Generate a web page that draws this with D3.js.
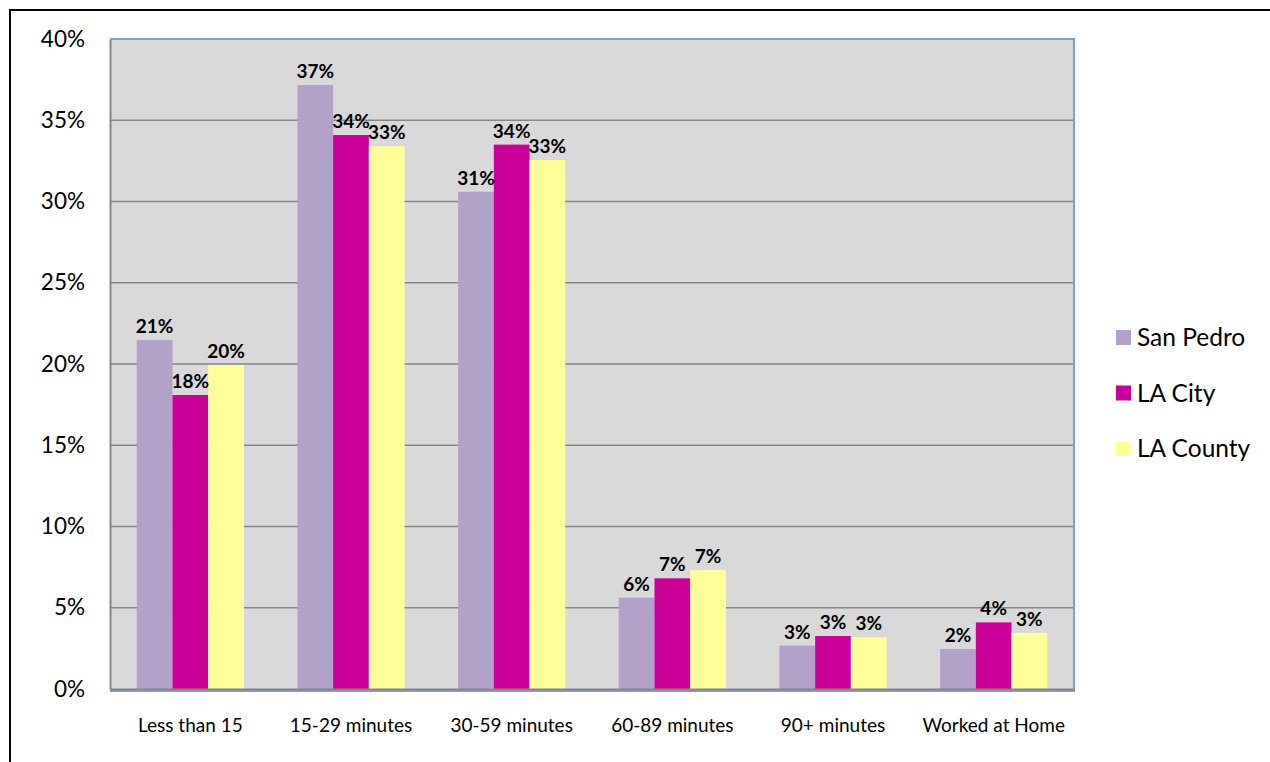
<!DOCTYPE html>
<html>
<head>
<meta charset="utf-8">
<script src="https://cdn.jsdelivr.net/npm/d3@7"></script>
<style>
  html, body { margin: 0; padding: 0; background: #fff; }
  svg { display: block; }
</style>
</head>
<body>
<svg id="chart" width="1270" height="762"></svg>
<script>
// Commute time shares by area
const categories = ["Less than 15", "15-29 minutes", "30-59 minutes", "60-89 minutes", "90+ minutes", "Worked at Home"];
const seriesNames = ["San Pedro", "LA City", "LA County"];
const sanPedro = [0.2148, 0.3717, 0.3060, 0.0562, 0.0267, 0.0246];
const laCity   = [0.1809, 0.3409, 0.3350, 0.0681, 0.0326, 0.0410];
const laCounty = [0.1994, 0.3340, 0.3255, 0.0732, 0.0318, 0.0345];
const yTicks = [0, 0.05, 0.10, 0.15, 0.20, 0.25, 0.30, 0.35, 0.40];
const colors = ["#B3A2C7", "#CC0099", "#FFFF99"];

const seriesValues = [sanPedro, laCity, laCounty];

const svg = d3.select("#chart");
const W = 1270, H = 762;
const plot = { left: 110, right: 1074, top: 39, bottom: 689 };
const font = "Lato, 'Open Sans', sans-serif";

// outer chart frame
svg.append("path")
  .attr("d", `M10,${H + 5} L10,10 L${W + 5},10`)
  .attr("fill", "none").attr("stroke", "#000").attr("stroke-width", 2);

const x = d3.scaleBand()
  .domain(categories)
  .range([plot.left, plot.right])
  .paddingInner(1 / 3)
  .paddingOuter(1 / 6);

const xs = d3.scaleBand()
  .domain(seriesNames)
  .range([0, x.bandwidth()])
  .padding(0);

const y = d3.scaleLinear()
  .domain([0, 0.40])
  .range([plot.bottom, plot.top]);

// plot background
svg.append("rect")
  .attr("x", plot.left).attr("y", plot.top)
  .attr("width", plot.right - plot.left).attr("height", plot.bottom - plot.top)
  .attr("fill", "#D9D9D9");

// gridlines
svg.append("g")
  .selectAll("line")
  .data(yTicks.filter(t => t > 0 && t < 0.40))
  .join("line")
  .attr("x1", plot.left).attr("x2", plot.right)
  .attr("y1", d => y(d)).attr("y2", d => y(d))
  .attr("stroke", "#868686").attr("stroke-width", 1.5);

// plot area border (top and right)
svg.append("path")
  .attr("d", `M${plot.left},${plot.top} L${plot.right},${plot.top} L${plot.right},${plot.bottom + 2} L${plot.left},${plot.bottom + 2}`)
  .attr("fill", "none").attr("stroke", "#7F9FCF").attr("stroke-width", 2);

// bars
const groups = svg.append("g")
  .selectAll("g")
  .data(categories)
  .join("g")
  .attr("transform", d => `translate(${x(d)},0)`);

groups.selectAll("rect")
  .data((c, i) => seriesNames.map((s, k) => ({ s, k, v: seriesValues[k][i] })))
  .join("rect")
  .attr("x", d => xs(d.s))
  .attr("width", xs.bandwidth())
  .attr("y", d => y(d.v))
  .attr("height", d => y(0) - y(d.v))
  .attr("fill", d => colors[d.k]);

// value labels
const fmt = d3.format(".0%");
groups.selectAll("text")
  .data((c, i) => seriesNames.map((s, k) => ({ s, k, v: seriesValues[k][i] })))
  .join("text")
  .attr("x", d => xs(d.s) + xs.bandwidth() / 2)
  .attr("y", d => y(d.v) - 7)
  .attr("text-anchor", "middle")
  .attr("font-family", font)
  .attr("font-weight", "bold")
  .attr("font-size", 19)
  .attr("fill", "#000")
  .text(d => fmt(d.v));

// y axis
const yAxis = svg.append("g")
  .attr("transform", `translate(${plot.left},0)`)
  .call(d3.axisLeft(y).tickValues(yTicks).tickFormat(d3.format(".0%")).tickSize(0).tickPadding(25));
yAxis.select(".domain").attr("stroke", "#868686").attr("stroke-width", 2);
yAxis.selectAll("text")
  .attr("font-family", font)
  .attr("font-size", 22.5)
  .attr("fill", "#000");

// x axis
const xAxis = svg.append("g")
  .attr("transform", `translate(0,${plot.bottom})`)
  .call(d3.axisBottom(x).tickSize(0).tickPadding(30));
xAxis.select(".domain").attr("stroke", "#868686").attr("stroke-width", 2);
xAxis.selectAll("text")
  .attr("font-family", font)
  .attr("font-size", 19)
  .attr("fill", "#000");

// legend
const legend = svg.append("g")
  .selectAll("g")
  .data(seriesNames)
  .join("g")
  .attr("transform", (d, i) => `translate(1116,${330 + i * 55.5})`);
legend.append("rect")
  .attr("width", 15).attr("height", 15)
  .attr("fill", (d, i) => colors[i]);
legend.append("text")
  .attr("x", 21).attr("y", 16)
  .attr("font-family", font)
  .attr("font-size", 24.5)
  .attr("fill", "#000")
  .text(d => d);
</script>
</body>
</html>
